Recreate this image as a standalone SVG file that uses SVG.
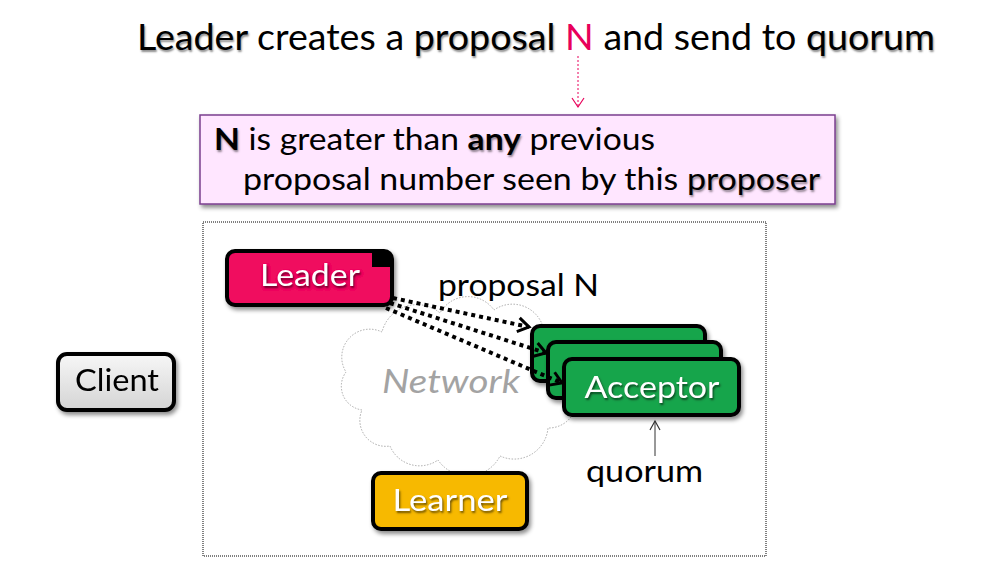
<svg xmlns="http://www.w3.org/2000/svg" width="984" height="567" viewBox="0 0 984 567">
<defs>
<filter id="sh" x="-20%" y="-20%" width="140%" height="160%">
<feDropShadow dx="2" dy="3" stdDeviation="2" flood-color="#000" flood-opacity="0.45"/>
</filter>
<linearGradient id="cg" x1="0" y1="0" x2="0" y2="1">
<stop offset="0" stop-color="#f7f7f7"/>
<stop offset="1" stop-color="#d4d4d4"/>
</linearGradient>
<marker id="ah" markerUnits="userSpaceOnUse" markerWidth="20" markerHeight="20" refX="0" refY="0" viewBox="-14 -10 16 20" orient="auto">
<path d="M-11,-7 L0,0 L-11,7" fill="none" stroke="#000" stroke-width="3" stroke-dasharray="none"/>
</marker>
<marker id="ahp" markerUnits="userSpaceOnUse" markerWidth="16" markerHeight="16" refX="0" refY="0" viewBox="-12 -8 14 16" orient="auto">
<path d="M-9,-6 L0,0 L-9,6" fill="none" stroke="#E8005A" stroke-width="1.2" stroke-dasharray="none"/>
</marker>
<marker id="aht" markerUnits="userSpaceOnUse" markerWidth="16" markerHeight="16" refX="0" refY="0" viewBox="-12 -8 14 16" orient="auto">
<path d="M-9,-5 L0,0 L-9,5" fill="none" stroke="#333" stroke-width="1.2"/>
</marker>
</defs>
<style>
text{font-family:Lato,"Open Sans","Noto Sans",sans-serif}
.box{stroke:#000;stroke-width:4}
.wl{fill:#fff;font-size:30px;text-anchor:middle;text-shadow:1px 2px 2px rgba(0,0,0,0.55)}
.em{text-shadow:1px 2px 2px rgba(0,0,0,0.45)}
.bd{font-weight:700;text-shadow:1px 2px 2px rgba(0,0,0,0.45)}
</style>
<rect width="984" height="567" fill="#fff"/>

<g id="title">
<text x="137" y="50" font-size="37" fill="#000" textLength="798" lengthAdjust="spacingAndGlyphs"><tspan class="em">Leader</tspan> creates a <tspan class="em">proposal</tspan> <tspan fill="#E8005A">N</tspan> and send to <tspan class="em">quorum</tspan></text>
</g>

<g id="note">
<rect x="200" y="115" width="635" height="89" fill="#FFE6FF" stroke="#7B3F8F" stroke-width="1.5" filter="url(#sh)"/>
<text x="214" y="150" font-size="30" fill="#000" textLength="441" lengthAdjust="spacingAndGlyphs"><tspan class="bd">N</tspan> is greater than <tspan class="bd">any</tspan> previous</text>
<text x="243" y="190" font-size="30" fill="#000" textLength="577" lengthAdjust="spacingAndGlyphs">proposal number seen by this <tspan class="em">proposer</tspan></text>
</g>

<rect id="frame" x="203" y="222" width="563" height="334" fill="none" stroke="#000" stroke-width="1" stroke-dasharray="1 1"/>

<g id="network">
<path d="M362 410 A24 24 0 0 1 346 372 A28 28 0 0 1 382 332 A36 36 0 0 1 440 313 A32 32 0 0 1 494 310 A32 32 0 0 1 544 331 A28 28 0 0 1 566 378 A28 28 0 0 1 548 428 A34 34 0 0 1 500 456 A36 36 0 0 1 438 460 A32 32 0 0 1 390 446 A26 26 0 0 1 362 410 Z" fill="#fff" stroke="#aaa" stroke-width="1" stroke-dasharray="1.5 1.5"/>
<text x="382" y="393" font-size="33" font-style="italic" fill="#A3A3A3" textLength="138" lengthAdjust="spacingAndGlyphs">Network</text>
</g>

<g id="client" filter="url(#sh)">
<rect class="box" x="58" y="354" width="116" height="56" rx="9" fill="url(#cg)"/>
<text x="117" y="391" font-size="30" text-anchor="middle" fill="#000" textLength="84" lengthAdjust="spacingAndGlyphs">Client</text>
</g>

<g id="leader" filter="url(#sh)">
<rect class="box" x="227" y="251" width="165" height="54" rx="8" fill="#F0075E"/>
<path d="M372,251 H384 A8 8 0 0 1 392 259 V267 H372 Z" fill="#000"/>
<text class="wl" x="310" y="286" textLength="100" lengthAdjust="spacingAndGlyphs">Leader</text>
</g>

<g id="acceptor3" filter="url(#sh)">
<rect class="box" x="532" y="326" width="173" height="55" rx="8" fill="#18A54C"/>
</g>
<g id="acceptor2" filter="url(#sh)">
<rect class="box" x="548" y="342" width="173" height="56" rx="8" fill="#18A54C"/>
</g>
<g id="acceptor1" filter="url(#sh)">
<rect class="box" x="564" y="359" width="175" height="56" rx="8" fill="#18A54C"/>
<text class="wl" x="652" y="398" textLength="135" lengthAdjust="spacingAndGlyphs">Acceptor</text>
</g>

<g id="learner" filter="url(#sh)">
<rect class="box" x="373" y="473" width="154" height="56" rx="8" fill="#F7B900"/>
<text class="wl" x="450" y="511" textLength="115" lengthAdjust="spacingAndGlyphs">Learner</text>
</g>

<g id="connectors">
<line x1="578" y1="56" x2="578" y2="107" stroke="#E8005A" stroke-width="1" stroke-dasharray="2 2" marker-end="url(#ahp)"/>
<g stroke="#000" stroke-width="4" stroke-dasharray="4 4" fill="none">
<line x1="393" y1="298" x2="529" y2="327" marker-end="url(#ah)"/>
<line x1="390" y1="303" x2="546" y2="353" marker-end="url(#ah)"/>
<line x1="386" y1="308" x2="562" y2="383" marker-end="url(#ah)"/>
</g>
<line x1="655" y1="456" x2="655" y2="421" stroke="#333" stroke-width="1" marker-end="url(#aht)"/>
</g>

<g id="labels">
<text x="438" y="296" font-size="30" fill="#000" textLength="161" lengthAdjust="spacingAndGlyphs">proposal N</text>
<text x="586" y="482" font-size="30" fill="#000" textLength="117" lengthAdjust="spacingAndGlyphs">quorum</text>
</g>
</svg>
